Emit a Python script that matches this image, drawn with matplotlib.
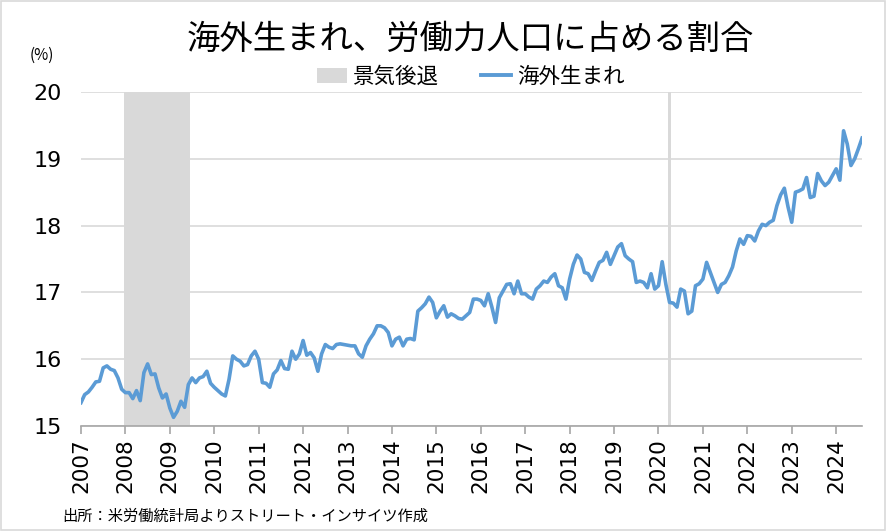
import matplotlib.pyplot as plt
from matplotlib.patches import Patch, Rectangle
from matplotlib.lines import Line2D
import numpy as np

plt.rcParams['font.family'] = ['Noto Sans CJK JP', 'DejaVu Sans']

# monthly share of foreign-born in the labor force (%), Jan 2007 - Aug 2024
start_year = 2007
share = [
    15.35, 15.47, 15.51, 15.58, 15.66, 15.67, 15.87, 15.90, 15.85, 15.83, 15.72, 15.55,  # 2007
    15.50, 15.50, 15.41, 15.53, 15.38, 15.80, 15.93, 15.77, 15.78, 15.57, 15.42, 15.48,  # 2008
    15.27, 15.13, 15.22, 15.37, 15.28, 15.62, 15.72, 15.65, 15.72, 15.74, 15.82, 15.64,  # 2009
    15.58, 15.53, 15.48, 15.45, 15.70, 16.05, 16.00, 15.97, 15.90, 15.92, 16.05, 16.12,  # 2010
    16.00, 15.65, 15.64, 15.58, 15.78, 15.84, 15.98, 15.86, 15.85, 16.12, 16.00, 16.08,  # 2011
    16.28, 16.06, 16.10, 16.02, 15.82, 16.08, 16.22, 16.18, 16.16, 16.22, 16.23, 16.22,  # 2012
    16.21, 16.20, 16.20, 16.08, 16.03, 16.20, 16.30, 16.38, 16.50, 16.50, 16.47, 16.40,  # 2013
    16.20, 16.30, 16.33, 16.20, 16.30, 16.31, 16.29, 16.72, 16.77, 16.83, 16.93, 16.85,  # 2014
    16.62, 16.72, 16.80, 16.63, 16.68, 16.65, 16.61, 16.60, 16.65, 16.70, 16.90, 16.90,  # 2015
    16.88, 16.80, 16.98, 16.78, 16.55, 16.92, 17.02, 17.12, 17.13, 16.98, 17.17, 16.98,  # 2016
    16.98, 16.93, 16.90, 17.05, 17.10, 17.17, 17.15, 17.23, 17.28, 17.10, 17.07, 16.90,  # 2017
    17.20, 17.42, 17.56, 17.50, 17.30, 17.28, 17.18, 17.32, 17.45, 17.48, 17.60, 17.42,  # 2018
    17.55, 17.68, 17.73, 17.55, 17.50, 17.46, 17.15, 17.17, 17.15, 17.07, 17.28, 17.05,  # 2019
    17.10, 17.46, 17.12, 16.85, 16.84, 16.78, 17.05, 17.02, 16.68, 16.72, 17.10, 17.13,  # 2020
    17.20, 17.45, 17.30, 17.15, 17.00, 17.12, 17.15, 17.25, 17.38, 17.62, 17.80, 17.72,  # 2021
    17.85, 17.84, 17.77, 17.92, 18.02, 18.00, 18.05, 18.08, 18.30, 18.46, 18.56, 18.28,  # 2022
    18.05, 18.50, 18.52, 18.55, 18.72, 18.42, 18.44, 18.78, 18.67, 18.60, 18.65, 18.75,  # 2023
    18.85, 18.68, 19.42, 19.22, 18.90, 19.00, 19.15, 19.31,                              # 2024
]

# recession months shaded (first month, last month)
rec_start = ["2008-01", "2020-04"]
rec_end = ["2009-06", "2020-04"]

years = list(range(2007, 2025))

title = "海外生まれ、労働力人口に占める割合"
source = "出所：米労働統計局よりストリート・インサイツ作成"

line_color = "#5B9BD5"
band_color = "#D9D9D9"
grid_color = "#D9D9D9"


def month_index(s):
    y, m = s.split("-")
    return (int(y) - start_year) * 12 + int(m) - 1


fig = plt.figure(figsize=(8.86, 5.31), dpi=100)
ax = fig.add_axes([0.0914, 0.1977, 0.973 - 0.0914, 0.8267 - 0.1977])

x = np.arange(len(share))

for s, e in zip(rec_start, rec_end):
    ax.axvspan(month_index(s) - 0.5, month_index(e) + 0.5, color=band_color, lw=0, zorder=1)

ax.plot(x, share, color=line_color, lw=2.6, zorder=3, solid_joinstyle='round')

ax.set_xlim(0, len(share) - 1)
ax.set_ylim(15, 20)
ax.set_yticks(range(15, 21))
ax.set_yticklabels([str(v) for v in range(15, 21)], family='DejaVu Sans', fontsize=16)
ax.yaxis.grid(True, color=grid_color, lw=1.2, zorder=0)
ax.set_axisbelow(True)

ax.set_xticks([(y - start_year) * 12 for y in years])
ax.set_xticklabels([str(y) for y in years], rotation=90, family='DejaVu Sans', fontsize=15.5)

for side in ['left', 'right', 'top']:
    ax.spines[side].set_visible(False)
ax.spines['bottom'].set_color('#A6A6A6')
ax.spines['bottom'].set_linewidth(1.2)
ax.tick_params(axis='y', length=0, pad=14)
ax.tick_params(axis='x', direction='out', length=6, width=1.2, color='#A6A6A6', pad=3)

fig.text(0.531, 0.925, title, ha='center', va='center', fontsize=24)
fig.text(0.033, 0.896, "(%)", ha='left', va='center', fontsize=11)
fig.text(0.070, 0.027, source, ha='left', va='center', fontsize=11)

handles = [Patch(facecolor=band_color, edgecolor='none'),
           Line2D([0], [0], color=line_color, lw=2.8)]
fig.legend(handles, ["景気後退", "海外生まれ"], loc='center', bbox_to_anchor=(0.531, 0.855),
           ncol=2, frameon=False, fontsize=15.5, handlelength=1.4, handletextpad=0.25,
           columnspacing=2.0, borderpad=0)

fig.patches.append(Rectangle((0.001, 0.001), 0.998, 0.998, transform=fig.transFigure,
                             fill=False, edgecolor='#D9D9D9', lw=1.2))

fig.savefig("out.png", dpi=100)
